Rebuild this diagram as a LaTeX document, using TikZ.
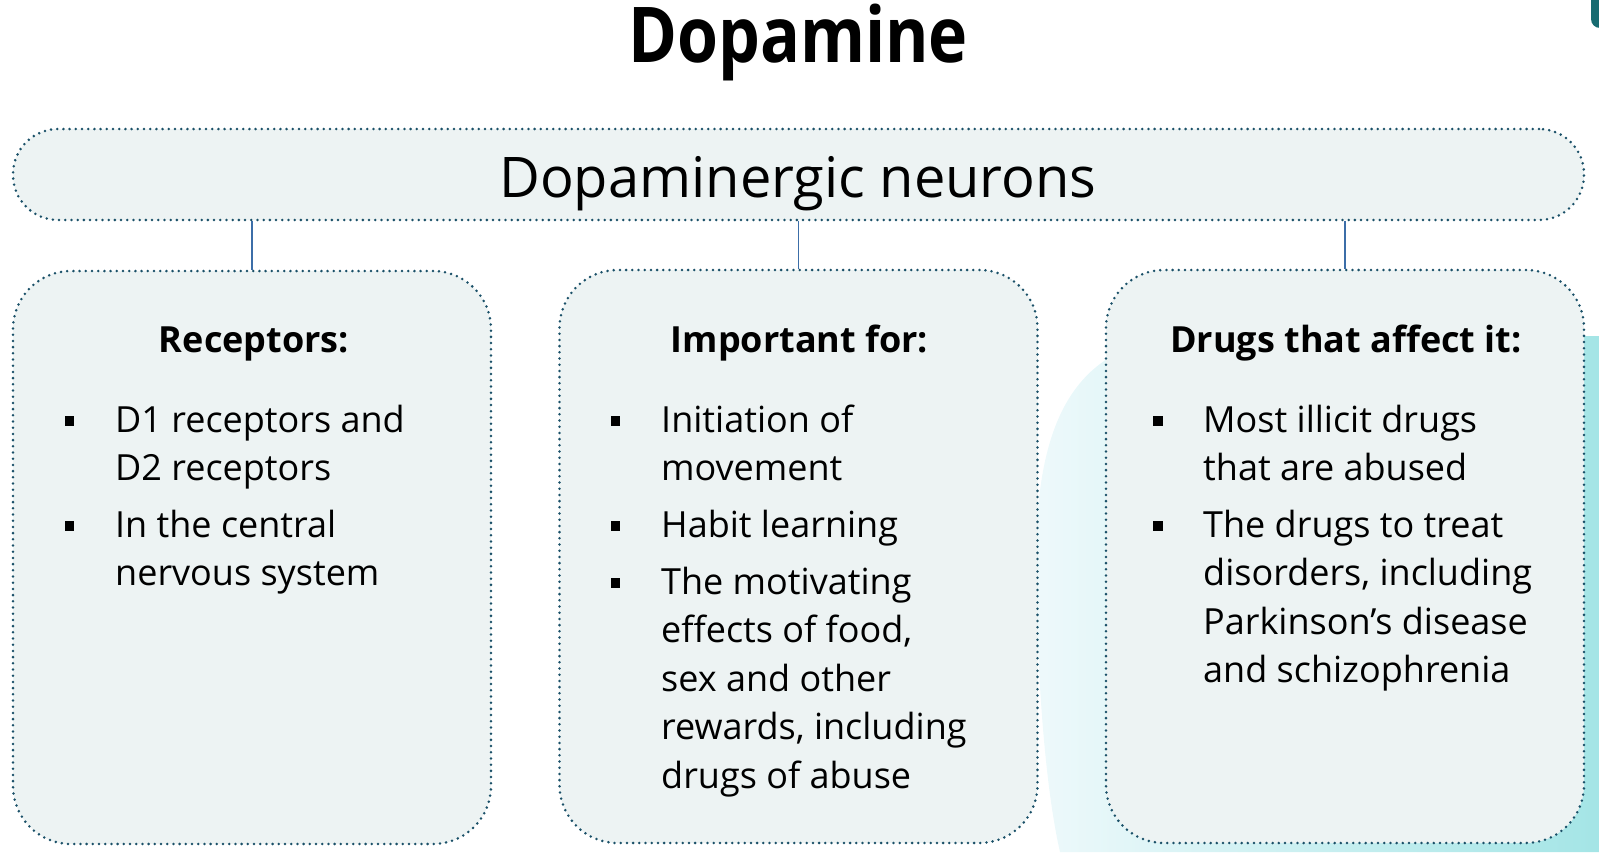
\documentclass[tikz,border=0pt]{standalone}
\usepackage{fontspec}
\setmainfont{Open Sans}
\newfontfamily\titlefont[FakeStretch=0.86]{Open Sans}
\usetikzlibrary{positioning,calc}
\definecolor{boxfill}{HTML}{EDF3F3}
\definecolor{dotc}{HTML}{1A5068}
\definecolor{linkc}{HTML}{3C6EA8}
\definecolor{blobL}{HTML}{EEF9FB}
\definecolor{blobR}{HTML}{A4E5E6}
\definecolor{tabc}{HTML}{176B70}

\begin{document}
\begin{tikzpicture}[x=1pt,y=-1pt,line join=round,
  frame/.style={draw=dotc,line width=2.8pt,dash pattern=on 0pt off 6.2pt,line cap=round,fill=boxfill,inner sep=0pt},
  col/.style={frame,rounded corners=58pt,minimum width=478pt,minimum height=573pt},
  head/.style={anchor=base,inner sep=0pt,font=\bfseries\fontsize{36}{44}\selectfont},
  item/.style={anchor=base west,align=left,inner sep=0pt,font=\fontsize{36}{48.5}\selectfont},
  link/.style={draw=linkc,line width=1.6pt}]
\useasboundingbox (0,0) rectangle (1599,852);
% --- backdrop
\shade[left color=blobL,right color=blobR] (1599,336) -- (1190,336) .. controls (1075,340) and (1036,420) .. (1036,560) .. controls (1037,700) and (1048,800) .. (1060,852) -- (1599,852) -- cycle;
\fill[tabc,rounded corners=9pt] (1591,-20) rectangle (1625,28);
% --- title
\node[anchor=base,inner sep=0pt,font={\titlefont\bfseries\fontsize{77}{90}\selectfont}] (title) at (798,62) {Dopamine};
% --- top bar
\node[frame,rounded corners=45pt,minimum width=1571pt,minimum height=91pt] (bar) at (798.5,174.5) {};
\node[anchor=base,inner sep=0pt,font=\fontsize{56}{66}\selectfont] (bartxt) at (798,197) {Dopaminergic neurons};
% --- three columns
\node[col] (rec) at (252,557.5) {};
\node[col] (imp) at (798.5,556.5) {};
\node[col] (drg) at (1345,556.5) {};
\foreach \c in {rec,imp,drg} {\draw[link] (\c.north |- bar.south) -- (\c.north);}
% headings
\node[head] (rech) at (254,352) {Receptors:};
\node[head] (imph) at (799.5,352) {Important for:};
\node[head] (drgh) at (1346,352) {Drugs that affect it:};
% bullets
\foreach \x/\y in {69.5/421,69.5/526,615.5/421,615.5/526,615.5/583,1158/421,1158/526}
  {\fill (\x-4.7,\y-4.7) rectangle (\x+4.7,\y+4.7);}
% receptors (base = last line)
\node[item] (rec1) at (115,480.5) {D1 receptors and\\D2 receptors};
\node[item] (rec2) at (115,585.5) {In the central\\nervous system};
% important for
\node[item] (imp1) at (661,480.5) {Initiation of\\movement};
\node[item] (imp2) at (661,537) {Habit learning};
\node[item] (imp3) at (661,788) {The motivating\\effects of food,\\sex and other\\rewards, including\\drugs of abuse};
% drugs
\node[item] (drg1) at (1203,480.5) {Most illicit drugs\\that are abused};
\node[item] (drg2) at (1203,682.5) {The drugs to treat\\disorders, including\\Parkinson’s disease\\and schizophrenia};
\end{tikzpicture}
\end{document}
